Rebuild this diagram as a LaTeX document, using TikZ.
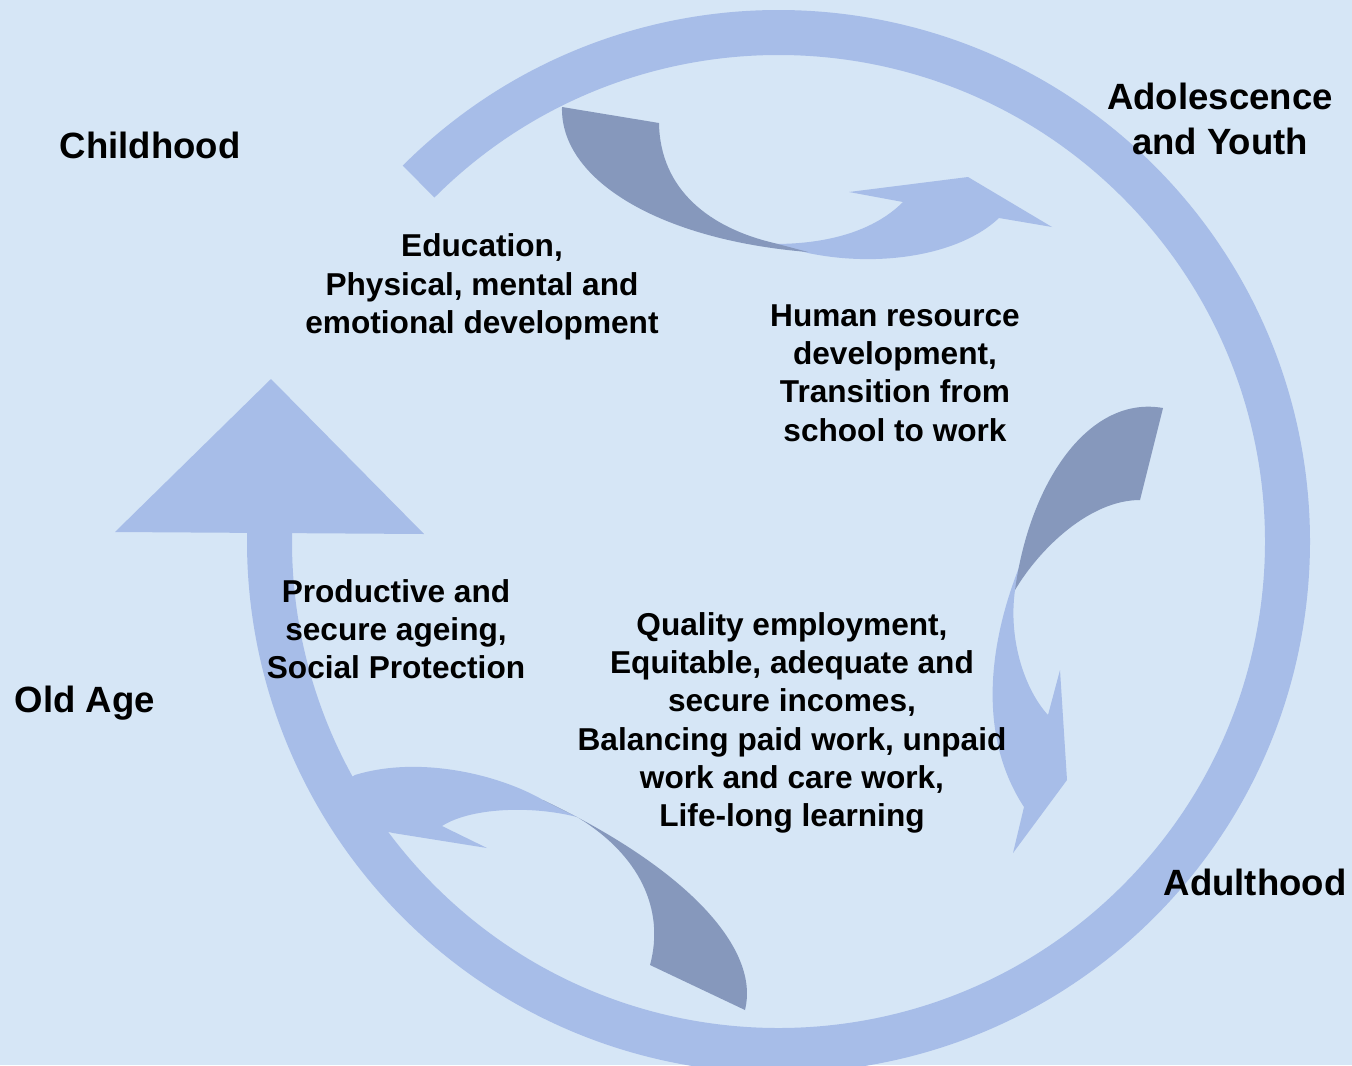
\documentclass[tikz,border=0pt]{standalone}
\usepackage{fontspec}
\setmainfont{Liberation Sans}
\usetikzlibrary{positioning}
\definecolor{backblue}{RGB}{214,230,246}
\definecolor{ringblue}{RGB}{167,189,232}
\definecolor{shadeblue}{RGB}{134,152,188}
\tikzset{
  stage/.style={align=center,font=\bfseries\fontsize{20.8}{25.6}\selectfont},
  note/.style={align=center,font=\bfseries\fontsize{18}{21.8}\selectfont},
  swooshlight/.style={fill=ringblue},
  swooshdark/.style={fill=shadeblue}
}

\begin{document}
\begin{tikzpicture}[x=0.02cm,y=-0.02cm]
\fill[backblue] (0,0) rectangle (1352,1065);
\useasboundingbox (0,0) rectangle (1352,1065);
\clip (0,0) rectangle (1352,1065);

% top swoosh
\fill[swooshlight] (774,244) .. controls (830,244) and (875,230) .. (903,202)
-- (849,192) -- (968,177) -- (1052,227) -- (999,218)
.. controls (960,255) and (880,268) .. (808,253) -- cycle;
\fill[swooshdark] (562,107) -- (659,123)
.. controls (660,190) and (710,228) .. (774,243) -- (808,252)
.. controls (660,240) and (560,180) .. (562,107) -- cycle;

% right swoosh
\fill[swooshlight] (1022,560) .. controls (985,650) and (980,740) .. (1024,807)
-- (1013,853) -- (1067,780) -- (1060,670) -- (1048,715)
.. controls (1025,690) and (1008,640) .. (1015,590) -- cycle;
\fill[swooshdark] (1163,408) -- (1140,500)
.. controls (1090,500) and (1040,548) .. (1015,590)
.. controls (1030,480) and (1090,395) .. (1163,408) -- cycle;

% bottom swoosh
\fill[swooshlight] (577,817) .. controls (530,805) and (470,808) .. (442,826)
-- (487,848) -- (393,833) -- (345,822) -- (330,790) -- (355,775)
.. controls (420,755) and (500,775) .. (543,800) -- cycle;
\fill[swooshdark] (650,965) -- (745,1010)
.. controls (760,950) and (690,870) .. (543,800) -- (577,817)
.. controls (640,855) and (665,910) .. (650,965) -- cycle;

% life cycle ring
\coordinate (c) at (778.5,541.5);
\draw[ringblue,line width=0.9cm] (c) ++(225:509) arc (225:541:509);
\fill[swooshlight] (115,532) -- (271,379) -- (424,534) -- cycle;

\node[stage] (childhood) at (150,145) {Childhood};
\node[stage] (youth) at (1220,119) {Adolescence\\and Youth};
\node[stage] (adulthood) at (1255,882) {Adulthood};
\node[stage] (oldage) at (85,703) {Old Age};

\node[note] (edu) at (482,287) {Education,\\Physical, mental and\\emotional development};
\node[note] (hrd) at (895,373) {Human resource\\development,\\Transition from\\school to work};
\node[note] (ageing) at (396,629) {Productive and\\secure ageing,\\Social Protection};
\node[note] (work) at (792,723) {Quality employment,\\Equitable, adequate and\\secure incomes,\\Balancing paid work, unpaid\\work and care work,\\Life-long learning};
\end{tikzpicture}
\end{document}
